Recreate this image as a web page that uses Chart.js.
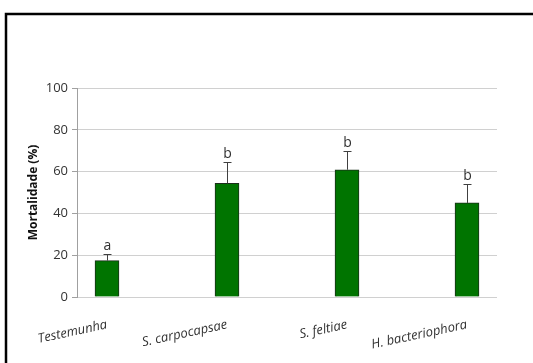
<!DOCTYPE html>
<html>
<head>
<meta charset="utf-8">
<script src="https://cdn.jsdelivr.net/npm/chart.js@4/dist/chart.umd.min.js"></script>
<style>
  html, body { margin: 0; padding: 0; background: #fff; }
  #wrap { width: 533px; height: 363px; }
</style>
</head>
<body>
<div id="wrap"><canvas id="mortChart" width="533" height="363"></canvas></div>
<script>
// dados do gráfico
const tratamentos = ['Testemunha', 'S. carpocapsae', 'S. feltiae', 'H. bacteriophora'];
const mortalidade = [17.4, 54.4, 60.9, 45.0];
const erroSup = [3.0, 10.3, 9.0, 8.9];
const letras = ['a', 'b', 'b', 'b'];
const yTicks = [0, 20, 40, 60, 80, 100];

// moldura preta (só topo e esquerda aparecem)
const moldura = {
    id: 'moldura',
    afterDraw(chart) {
        const c = chart.ctx;
        c.save();
        c.strokeStyle = '#000';
        c.lineWidth = 2.5;
        c.beginPath();
        c.moveTo(6, 400);
        c.lineTo(6, 14);
        c.lineTo(540, 14);
        c.stroke();
        c.restore();
    }
};

// barras de erro e letras
const barrasErro = {
    id: 'barrasErro',
    afterDatasetsDraw(chart) {
        const c = chart.ctx;
        const x = chart.scales.x, y = chart.scales.y;
        c.save();
        c.strokeStyle = '#404040';
        c.lineWidth = 1;
        c.fillStyle = '#303030';
        c.font = '14px "Open Sans", "Noto Sans", sans-serif';
        c.textAlign = 'center';
        c.textBaseline = 'bottom';
        mortalidade.forEach((v, i) => {
            const px = Math.round(x.getPixelForValue(i)) + 0.5;
            const y0 = y.getPixelForValue(v);
            const y1 = Math.round(y.getPixelForValue(v + erroSup[i])) + 0.5;
            c.beginPath();
            c.moveTo(px, y0);
            c.lineTo(px, y1);
            c.moveTo(px - 4, y1);
            c.lineTo(px + 4, y1);
            c.stroke();
            c.fillText(letras[i], px, y1 - 1);
        });
        c.restore();
    }
};

const ctx = document.getElementById('mortChart').getContext('2d');
const grafico = new Chart(ctx, {
    type: 'bar',
    data: {
        datasets: [{
            data: mortalidade.map((v, i) => ({ x: i, y: v })),
            backgroundColor: '#007400',
            borderColor: '#1b2e1b',
            borderWidth: 1,
            barThickness: 24
        }]
    },
    options: {
        responsive: false,
        animation: false,
        layout: { padding: { left: 26, top: 88, right: 36, bottom: 0 } },
        plugins: { legend: { display: false }, tooltip: { enabled: false } },
        scales: {
            x: {
                type: 'linear',
                offset: false,
                min: -0.25,
                max: 3.25,
                afterBuildTicks: s => { s.ticks = tratamentos.map((t, i) => ({ value: i })); },
                afterFit: s => { s.height = 66; },
                grid: { display: false, offset: false },
                border: { display: false },
                ticks: {
                    callback: (v) => tratamentos[v],
                    minRotation: 12,
                    maxRotation: 12,
                    padding: 12,
                    color: '#333',
                    font: { family: '"Open Sans", "Noto Sans", sans-serif', size: 13, style: 'italic' }
                }
            },
            y: {
                min: 0,
                max: 100,
                afterBuildTicks: s => { s.ticks = yTicks.map(v => ({ value: v })); },
                afterFit: s => { s.width = 51; },
                grid: { color: '#d0d0d0', tickLength: 5, tickColor: '#a0a0a0' },
                border: { display: true, color: '#a0a0a0' },
                ticks: {
                    padding: 4,
                    color: '#333',
                    font: { family: '"Open Sans", "Noto Sans", sans-serif', size: 13 }
                },
                title: {
                    display: true,
                    text: 'Mortalidade (%)',
                    color: '#111',
                    padding: { top: 0, bottom: 6 },
                    font: { family: '"Open Sans", "Noto Sans", sans-serif', size: 12, weight: 'bold' }
                }
            }
        }
    },
    plugins: [moldura, barrasErro]
});
</script>
</body>
</html>
